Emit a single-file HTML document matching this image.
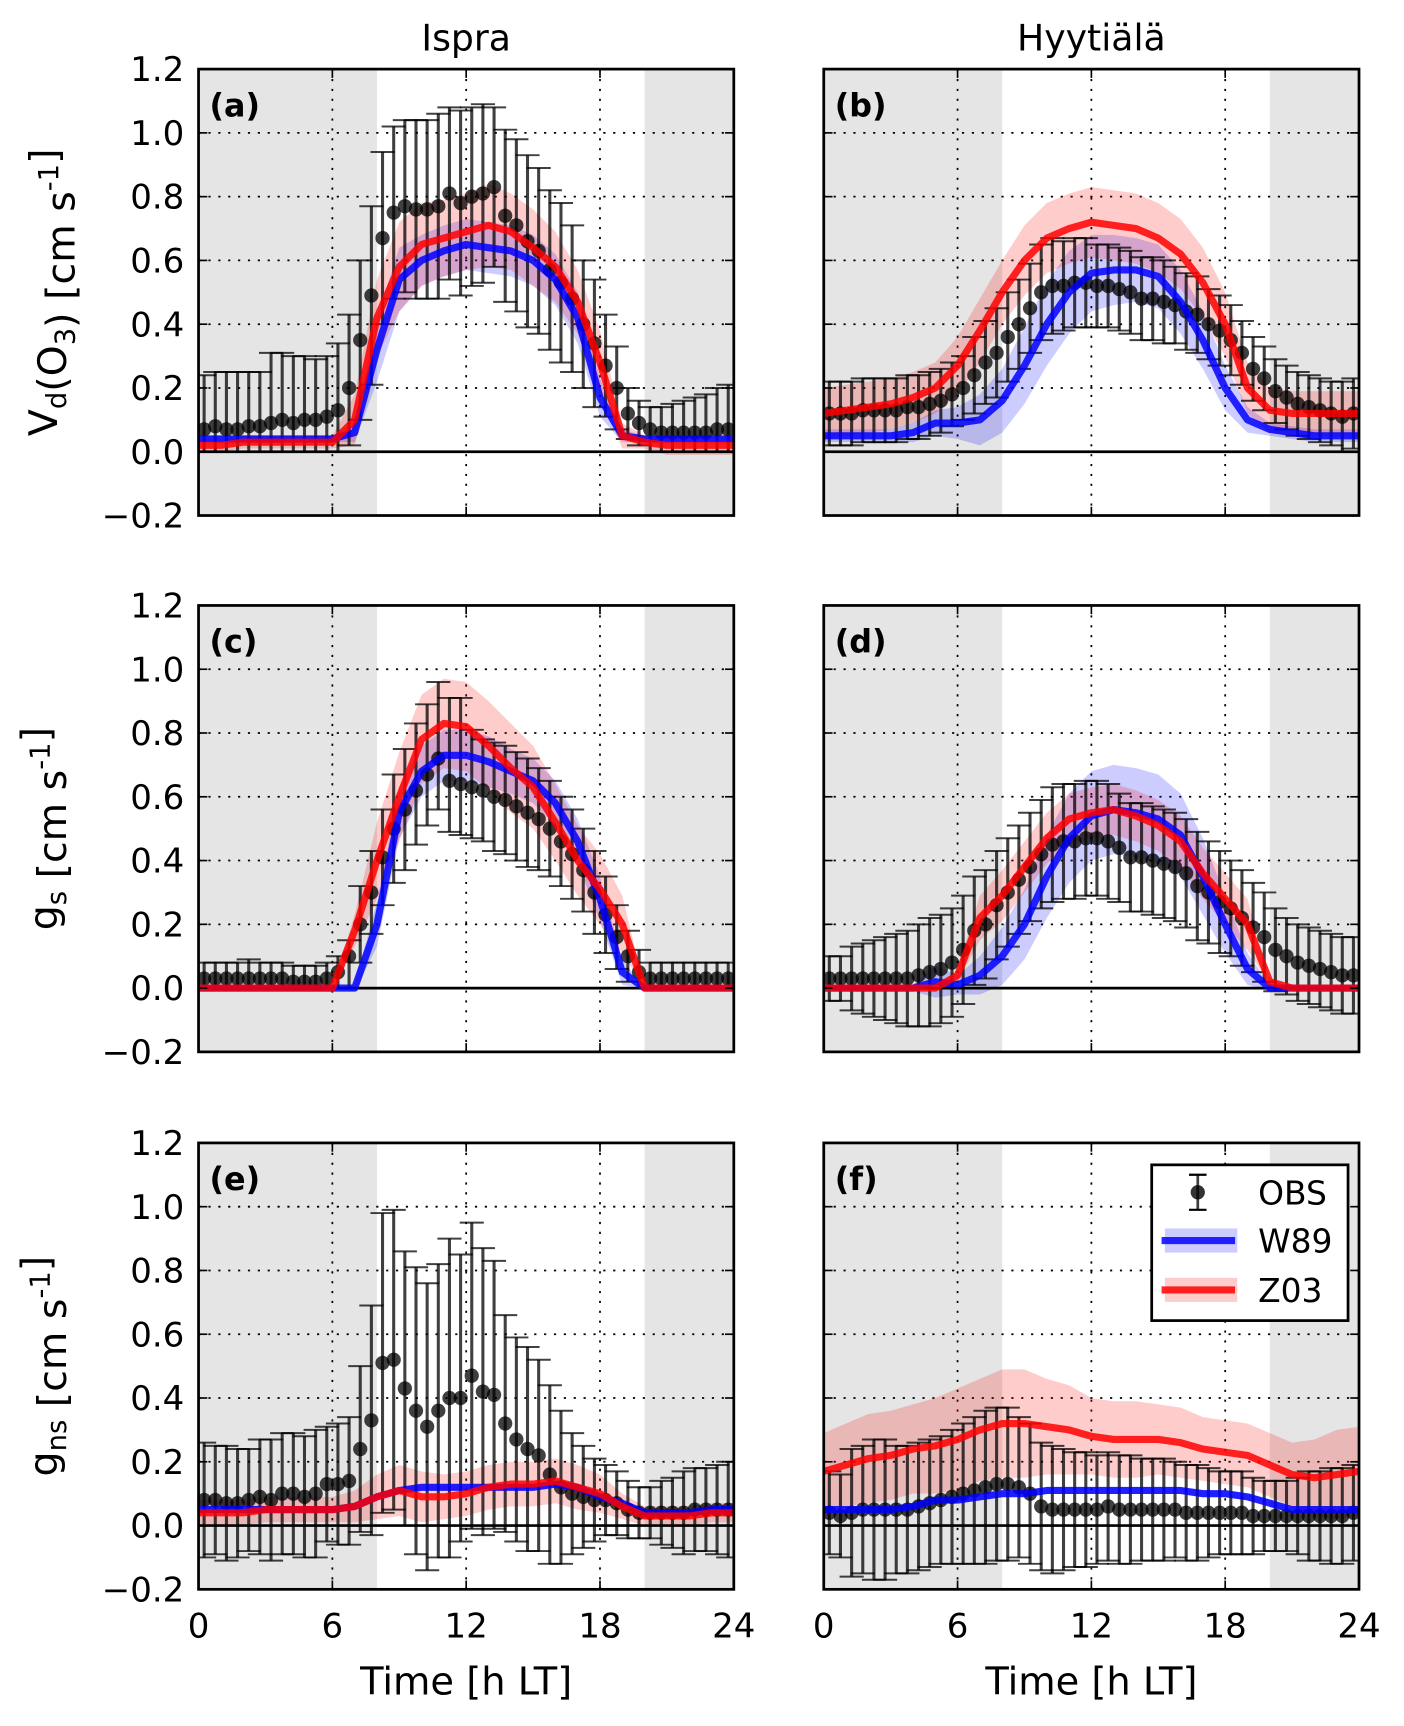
<!DOCTYPE html>
<html><head><meta charset="utf-8"><style>
html,body{margin:0;padding:0;background:#fff}
svg{display:block}
text{font-family:"DejaVu Sans","Liberation Sans",sans-serif;fill:#000}
</style></head><body>
<svg id="fig" width="1404" height="1726" viewBox="0 0 1280 1573.6" xmlns="http://www.w3.org/2000/svg">
<text x="425" y="46" font-size="33" text-anchor="middle">Ispra</text>
<text x="995" y="46" font-size="33" text-anchor="middle">Hyytiälä</text>
</svg>
<script>
const obsHours = Array.from({length:48},(_,i)=>0.25+0.5*i);
const modHours = Array.from({length:25},(_,i)=>i);
const yTicks = [-0.2,0.0,0.2,0.4,0.6,0.8,1.0,1.2];
const yTickLabels = ["\u22120.2","0.0","0.2","0.4","0.6","0.8","1.0","1.2"];
const xTicks = [0,6,12,18,24];
const xTickLabels = ["0","6","12","18","24"];

const obsA=[0.07,0.08,0.07,0.07,0.08,0.08,0.09,0.10,0.09,0.10,0.10,0.11,0.13,0.20,0.35,0.49,0.67,0.75,0.77,0.76,0.76,0.77,0.81,0.78,0.80,0.81,0.83,0.74,0.71,0.66,0.63,0.57,0.53,0.48,0.40,0.34,0.27,0.20,0.12,0.09,0.07,0.06,0.06,0.06,0.06,0.06,0.07,0.07];
const errA=[0.17,0.17,0.18,0.18,0.17,0.17,0.22,0.21,0.21,0.20,0.19,0.19,0.21,0.23,0.25,0.28,0.27,0.27,0.27,0.28,0.28,0.29,0.27,0.29,0.28,0.28,0.25,0.27,0.27,0.27,0.26,0.25,0.25,0.23,0.20,0.20,0.16,0.13,0.08,0.07,0.07,0.08,0.09,0.10,0.11,0.12,0.13,0.14];
const errLoA=[0.07,0.08,0.07,0.07,0.08,0.08,0.09,0.10,0.09,0.10,0.10,0.11,0.13,0.18,0.25,0.28,0.27,0.27,0.27,0.28,0.28,0.29,0.27,0.29,0.28,0.28,0.25,0.27,0.27,0.27,0.26,0.25,0.25,0.23,0.20,0.20,0.16,0.13,0.08,0.07,0.07,0.06,0.06,0.06,0.06,0.06,0.07,0.07];
const w89A=[0.04,0.04,0.04,0.04,0.04,0.04,0.04,0.06,0.32,0.54,0.60,0.63,0.65,0.64,0.63,0.60,0.54,0.42,0.17,0.05,0.04,0.04,0.04,0.04,0.04];
const w89BandA=[0.01,0.01,0.01,0.01,0.01,0.01,0.01,0.03,0.10,0.10,0.08,0.08,0.08,0.08,0.08,0.08,0.08,0.08,0.06,0.02,0.01,0.01,0.01,0.01,0.01];
const z03A=[0.02,0.02,0.03,0.03,0.03,0.03,0.03,0.10,0.42,0.58,0.65,0.67,0.69,0.71,0.69,0.64,0.58,0.47,0.28,0.05,0.03,0.02,0.02,0.02,0.02];
const z03BandA=[0.02,0.02,0.02,0.02,0.02,0.02,0.02,0.08,0.12,0.14,0.13,0.12,0.12,0.13,0.12,0.12,0.11,0.10,0.10,0.04,0.02,0.03,0.03,0.03,0.03];

const obsB=[0.12,0.12,0.12,0.13,0.13,0.13,0.13,0.14,0.14,0.15,0.16,0.18,0.20,0.24,0.28,0.31,0.36,0.40,0.45,0.50,0.52,0.52,0.53,0.53,0.52,0.52,0.51,0.50,0.48,0.48,0.47,0.46,0.44,0.43,0.40,0.38,0.35,0.31,0.26,0.23,0.19,0.17,0.15,0.14,0.13,0.12,0.11,0.12];
const errB=[0.10,0.10,0.10,0.10,0.10,0.10,0.10,0.10,0.10,0.10,0.10,0.10,0.10,0.12,0.13,0.14,0.14,0.14,0.14,0.15,0.15,0.14,0.14,0.14,0.13,0.13,0.13,0.13,0.13,0.13,0.13,0.12,0.12,0.12,0.11,0.11,0.11,0.10,0.10,0.10,0.10,0.10,0.10,0.10,0.10,0.10,0.11,0.11];
const w89B=[0.05,0.05,0.05,0.05,0.06,0.09,0.09,0.10,0.16,0.27,0.40,0.50,0.56,0.57,0.57,0.55,0.47,0.35,0.20,0.10,0.07,0.06,0.05,0.05,0.05];
const w89BandB=[0.02,0.02,0.02,0.02,0.03,0.04,0.05,0.08,0.10,0.12,0.13,0.13,0.12,0.11,0.10,0.10,0.10,0.09,0.07,0.04,0.02,0.02,0.02,0.02,0.02];
const z03B=[0.12,0.13,0.14,0.15,0.17,0.20,0.27,0.38,0.50,0.60,0.67,0.70,0.72,0.71,0.70,0.67,0.62,0.53,0.40,0.20,0.13,0.12,0.12,0.12,0.12];
const z03BandB=[0.08,0.08,0.08,0.08,0.08,0.08,0.09,0.10,0.10,0.11,0.11,0.11,0.11,0.11,0.11,0.11,0.11,0.11,0.10,0.08,0.07,0.07,0.07,0.07,0.07];

const obsC=[0.03,0.03,0.03,0.03,0.03,0.03,0.03,0.03,0.02,0.02,0.02,0.03,0.05,0.10,0.20,0.30,0.41,0.50,0.56,0.62,0.67,0.72,0.65,0.64,0.63,0.62,0.60,0.59,0.57,0.55,0.53,0.50,0.46,0.42,0.37,0.30,0.23,0.16,0.10,0.05,0.03,0.03,0.03,0.03,0.03,0.03,0.03,0.03];
const errC=[0.05,0.05,0.05,0.05,0.06,0.05,0.05,0.05,0.05,0.05,0.05,0.05,0.05,0.05,0.12,0.13,0.15,0.17,0.19,0.21,0.22,0.24,0.26,0.27,0.18,0.16,0.17,0.17,0.17,0.17,0.16,0.15,0.14,0.14,0.13,0.13,0.12,0.10,0.08,0.07,0.05,0.05,0.05,0.05,0.05,0.05,0.05,0.05];
const errLoC=[0.03,0.03,0.03,0.03,0.03,0.03,0.03,0.03,0.02,0.02,0.02,0.03,0.05,0.10,0.12,0.13,0.15,0.17,0.19,0.17,0.16,0.16,0.16,0.16,0.16,0.16,0.17,0.17,0.17,0.17,0.16,0.15,0.14,0.14,0.13,0.13,0.12,0.10,0.08,0.05,0.03,0.03,0.03,0.03,0.03,0.03,0.03,0.03];
const w89C=[0,0,0,0,0,0,0,0,0.20,0.55,0.68,0.73,0.73,0.71,0.68,0.65,0.58,0.46,0.28,0.05,0,0,0,0,0];
const w89BandC=[0,0,0,0,0,0,0,0.01,0.07,0.08,0.08,0.08,0.08,0.08,0.07,0.07,0.07,0.07,0.07,0.04,0,0,0,0,0];
const z03C=[0,0,0,0,0,0,0,0.18,0.40,0.60,0.78,0.83,0.82,0.76,0.69,0.63,0.52,0.40,0.31,0.20,0,0,0,0,0];
const z03BandC=[0,0,0,0,0,0,0,0.05,0.12,0.14,0.14,0.14,0.14,0.14,0.14,0.13,0.12,0.11,0.11,0.09,0,0,0,0,0];

const obsD=[0.03,0.03,0.03,0.03,0.03,0.03,0.03,0.03,0.04,0.05,0.06,0.08,0.12,0.18,0.20,0.26,0.30,0.34,0.38,0.42,0.45,0.46,0.46,0.47,0.47,0.46,0.44,0.41,0.41,0.40,0.39,0.38,0.36,0.32,0.30,0.27,0.25,0.22,0.19,0.16,0.12,0.10,0.08,0.07,0.06,0.05,0.04,0.04];
const errD=[0.07,0.07,0.10,0.11,0.12,0.13,0.14,0.15,0.16,0.17,0.17,0.17,0.17,0.17,0.17,0.17,0.17,0.17,0.17,0.17,0.18,0.18,0.18,0.18,0.18,0.18,0.17,0.17,0.17,0.17,0.17,0.17,0.17,0.17,0.16,0.16,0.15,0.15,0.14,0.14,0.13,0.12,0.12,0.12,0.12,0.12,0.12,0.12];
const w89D=[0,0,0,0,0,0.02,0.01,0.04,0.10,0.20,0.35,0.47,0.54,0.56,0.55,0.53,0.48,0.35,0.20,0.06,0,0,0,0,0];
const w89BandD=[0,0,0,0,0.01,0.05,0.03,0.06,0.09,0.11,0.13,0.14,0.14,0.14,0.14,0.14,0.13,0.12,0.09,0.05,0.01,0,0,0,0];
const z03D=[0,0,0,0,0,0,0.04,0.22,0.29,0.38,0.47,0.53,0.55,0.56,0.54,0.51,0.46,0.36,0.28,0.20,0.02,0,0,0,0];
const z03BandD=[0,0,0,0,0,0,0.02,0.07,0.08,0.08,0.08,0.08,0.08,0.08,0.08,0.08,0.08,0.08,0.08,0.08,0.01,0,0,0,0];

const obsE=[0.08,0.08,0.07,0.07,0.08,0.09,0.08,0.10,0.10,0.09,0.10,0.13,0.13,0.14,0.24,0.33,0.51,0.52,0.43,0.36,0.31,0.36,0.40,0.40,0.47,0.42,0.41,0.32,0.27,0.24,0.22,0.16,0.12,0.10,0.09,0.08,0.08,0.07,0.05,0.04,0.04,0.04,0.04,0.04,0.05,0.05,0.05,0.05];
const errE=[0.18,0.17,0.18,0.17,0.16,0.18,0.19,0.19,0.19,0.19,0.20,0.18,0.19,0.20,0.26,0.36,0.47,0.47,0.43,0.45,0.45,0.46,0.50,0.45,0.48,0.45,0.42,0.34,0.32,0.32,0.30,0.28,0.24,0.19,0.16,0.13,0.11,0.10,0.09,0.08,0.08,0.10,0.11,0.13,0.13,0.13,0.14,0.15];
const w89E=[0.05,0.05,0.05,0.05,0.05,0.05,0.05,0.06,0.09,0.11,0.12,0.12,0.12,0.12,0.12,0.12,0.13,0.12,0.09,0.07,0.04,0.04,0.04,0.05,0.05];
const w89BandE=[0.01,0.01,0.01,0.01,0.01,0.01,0.01,0.01,0.01,0.01,0.01,0.01,0.01,0.01,0.01,0.01,0.01,0.01,0.01,0.01,0.01,0.01,0.01,0.01,0.01];
const z03E=[0.04,0.04,0.04,0.05,0.05,0.05,0.05,0.06,0.09,0.11,0.09,0.09,0.10,0.12,0.13,0.13,0.14,0.12,0.10,0.06,0.03,0.03,0.03,0.04,0.04];
const z03BandE=[0.04,0.04,0.04,0.04,0.04,0.04,0.04,0.05,0.07,0.08,0.08,0.07,0.07,0.07,0.07,0.07,0.07,0.07,0.06,0.04,0.03,0.03,0.03,0.03,0.03];

const obsF=[0.04,0.03,0.04,0.05,0.05,0.05,0.05,0.05,0.06,0.07,0.08,0.09,0.10,0.11,0.12,0.13,0.13,0.12,0.10,0.06,0.05,0.05,0.05,0.05,0.05,0.06,0.05,0.05,0.05,0.05,0.05,0.05,0.04,0.04,0.04,0.04,0.04,0.04,0.03,0.03,0.03,0.03,0.03,0.03,0.03,0.03,0.03,0.04];
const errF=[0.13,0.13,0.20,0.20,0.22,0.22,0.20,0.20,0.20,0.20,0.20,0.21,0.22,0.23,0.24,0.24,0.24,0.22,0.22,0.20,0.20,0.19,0.18,0.18,0.17,0.17,0.17,0.17,0.16,0.16,0.16,0.15,0.15,0.15,0.14,0.13,0.13,0.13,0.12,0.11,0.11,0.11,0.12,0.14,0.14,0.15,0.15,0.15];
const w89F=[0.05,0.05,0.05,0.05,0.06,0.08,0.08,0.09,0.10,0.10,0.11,0.11,0.11,0.11,0.11,0.11,0.11,0.10,0.10,0.09,0.07,0.05,0.05,0.05,0.05];
const w89BandF=[0.01,0.01,0.01,0.01,0.01,0.01,0.01,0.01,0.01,0.01,0.01,0.01,0.01,0.01,0.01,0.01,0.01,0.01,0.01,0.01,0.01,0.01,0.01,0.01,0.01];
const z03F=[0.17,0.19,0.21,0.22,0.24,0.25,0.27,0.30,0.32,0.32,0.31,0.30,0.28,0.27,0.27,0.27,0.26,0.24,0.23,0.22,0.19,0.16,0.15,0.16,0.17];
const z03BandF=[0.12,0.13,0.14,0.14,0.14,0.15,0.16,0.16,0.17,0.17,0.15,0.14,0.12,0.12,0.12,0.11,0.11,0.10,0.10,0.10,0.10,0.10,0.12,0.14,0.14];

const NS="http://www.w3.org/2000/svg";
const svg=document.getElementById('fig');
function mk(tag,attrs,parent){const e=document.createElementNS(NS,tag);for(const k in attrs)e.setAttribute(k,attrs[k]);(parent||svg).appendChild(e);return e;}

const colX=[181,751], rowY=[63,552,1042], PW=488, PH=407;
const panels=[
 {id:'a',c:0,r:0,obs:obsA,err:errA,errLo:errLoA,w:w89A,wb:w89BandA,z:z03A,zb:z03BandA},
 {id:'b',c:1,r:0,obs:obsB,err:errB,errLo:errB,w:w89B,wb:w89BandB,z:z03B,zb:z03BandB},
 {id:'c',c:0,r:1,obs:obsC,err:errC,errLo:errLoC,w:w89C,wb:w89BandC,z:z03C,zb:z03BandC},
 {id:'d',c:1,r:1,obs:obsD,err:errD,errLo:errD,w:w89D,wb:w89BandD,z:z03D,zb:z03BandD},
 {id:'e',c:0,r:2,obs:obsE,err:errE,errLo:errE,w:w89E,wb:w89BandE,z:z03E,zb:z03BandE},
 {id:'f',c:1,r:2,obs:obsF,err:errF,errLo:errF,w:w89F,wb:w89BandF,z:z03F,zb:z03BandF}
];
const yLabels=[["V","d","(O","3",") [cm s","-1","]"],["g","s"," [cm s","-1","]"],["g","ns"," [cm s","-1","]"]];

panels.forEach(p=>{
 const x0=colX[p.c], y0=rowY[p.r];
 const X=h=>x0+h/24*PW;
 const Y=v=>y0+PH-(v+0.2)/1.4*PH;
 const g=mk('g',{});
 
 
 const clipId='clip'+p.id;
 const cp=mk('clipPath',{id:clipId},g);
 mk('rect',{x:x0,y:y0,width:PW,height:PH},cp);
 const inner=mk('g',{'clip-path':'url(#'+clipId+')'},g);
 const n1=mk('rect',{x:X(0),y:y0,width:X(8)-X(0),height:PH,fill:'#e5e5e5'},inner);
 
 
 const n2=mk('rect',{x:X(20),y:y0,width:X(24)-X(20),height:PH,fill:'#e5e5e5'},inner);
 
 
 yTicks.forEach(t=>{ if(t>-0.2&&t<1.2&&t!==0){const l=mk('line',{x1:x0,x2:x0+PW,y1:Y(t),y2:Y(t),stroke:'#000','stroke-width':1.6,'stroke-dasharray':'2,7'},inner);
  
  }});
 xTicks.forEach(t=>{ if(t>0&&t<24){const l=mk('line',{x1:X(t),x2:X(t),y1:y0,y2:y0+PH,stroke:'#000','stroke-width':1.6,'stroke-dasharray':'2,7'},inner);
  
  }});
 const band=(line,bw,col,name)=>{
  let d='';modHours.forEach((h,i)=>{d+=(i?'L':'M')+X(h)+','+Y(line[i]+bw[i]);});
  for(let i=modHours.length-1;i>=0;i--)d+='L'+X(modHours[i])+','+Y(line[i]-bw[i]);
  const e=mk('path',{d:d+'Z',fill:col,'fill-opacity':0.2,stroke:'none'},inner);
  
  
 };
 band(p.w,p.wb,'#0000ff','w89-band');
 band(p.z,p.zb,'#ff0000','z03-band');
 const zl=mk('line',{x1:x0,x2:x0+PW,y1:Y(0),y2:Y(0),stroke:'#000','stroke-width':2.5},inner);
 
 
 p.obs.forEach((v,i)=>{
  const x=X(obsHours[i]);
  const lo=Y(v-p.errLo[i]), hi=Y(v+p.err[i]);
  const eb=mk('g',{stroke:'#000','stroke-opacity':0.75,'stroke-width':2.8},inner);
  
  
  mk('line',{x1:x,x2:x,y1:lo,y2:hi},eb);
  mk('line',{x1:x-11,x2:x+11,y1:lo,y2:lo,'stroke-width':1.8},eb);
  mk('line',{x1:x-11,x2:x+11,y1:hi,y2:hi,'stroke-width':1.8},eb);
  const c=mk('circle',{cx:x,cy:Y(v),r:6.5,fill:'#000','fill-opacity':0.75},inner);
  
  
 });
 const line=(vals,col,name)=>{
  const pts=modHours.map((h,i)=>X(h)+','+Y(vals[i])).join(' ');
  const e=mk('polyline',{points:pts,fill:'none',stroke:col,'stroke-opacity':0.85,'stroke-width':6.5,'stroke-linejoin':'round'},inner);
  
  
 };
 line(p.w,'#0000ff','w89-line');
 line(p.z,'#ff0000','z03-line');
 const fr=mk('rect',{x:x0,y:y0,width:PW,height:PH,fill:'none',stroke:'#000','stroke-width':2.5},g);
 
 
 yTicks.forEach((t,i)=>{
  mk('line',{x1:x0,x2:x0+8,y1:Y(t),y2:Y(t),stroke:'#000','stroke-width':1.5},g);
  mk('line',{x1:x0+PW-8,x2:x0+PW,y1:Y(t),y2:Y(t),stroke:'#000','stroke-width':1.5},g);
  if(p.c===0){const tl=mk('text',{x:x0-13,y:Y(t)+11,'font-size':31,'text-anchor':'end'},g);tl.textContent=yTickLabels[i];
   
   }
 });
 xTicks.forEach((t,i)=>{
  mk('line',{x1:X(t),x2:X(t),y1:y0+PH-8,y2:y0+PH,stroke:'#000','stroke-width':1.5},g);
  mk('line',{x1:X(t),x2:X(t),y1:y0,y2:y0+8,stroke:'#000','stroke-width':1.5},g);
  if(p.r===2){const tl=mk('text',{x:X(t),y:y0+PH+44,'font-size':31,'text-anchor':'middle'},g);tl.textContent=xTickLabels[i];
   
   }
 });
 const pl=mk('text',{x:x0+10,y:y0+43,'font-size':29,'font-weight':'bold'},g);
 pl.textContent='('+p.id+')';
 
 
 if(p.r===2){const xl=mk('text',{x:x0+PW/2,y:y0+PH+96,'font-size':35,'text-anchor':'middle'},g);xl.textContent='Time [h LT]';
  
  }
 if(p.c===0){
  const cy=y0+PH/2;
  const yl=mk('text',{x:0,y:0,'font-size':36,'text-anchor':'middle',transform:'translate(52,'+cy+') rotate(-90)'},g);
  
  
  const parts=yLabels[p.r];
  parts.forEach((s,k)=>{
   const ts=mk('tspan',{},yl);
   let sub=false,sup=false;
   if(p.r===0){sub=(k===1||k===3);sup=(k===5);} else {sub=(k===1);sup=(k===3);}
   if(sub){ts.setAttribute('font-size',25);ts.setAttribute('dy',8);}
   else if(sup){ts.setAttribute('font-size',25);ts.setAttribute('dy',-15);}
   else{ts.setAttribute('dy',0);}
   ts.textContent=s;
   if(sub||sup){const r=mk('tspan',{'font-size':36,dy:sub?-8:15},yl);r.textContent='';}
  });
 }
});
const lg=mk('g',{});


mk('rect',{x:1050,y:1062,width:179,height:142,fill:'#fff',stroke:'#000','stroke-width':2.5},lg);
const eo=mk('g',{},lg);


mk('line',{x1:1092,x2:1092,y1:1071,y2:1103,stroke:'#000','stroke-opacity':0.75,'stroke-width':2.5},eo);
mk('line',{x1:1084,x2:1100,y1:1071,y2:1071,stroke:'#000','stroke-width':2},eo);
mk('line',{x1:1084,x2:1100,y1:1103,y2:1103,stroke:'#000','stroke-width':2},eo);
mk('circle',{cx:1092,cy:1087,r:6.5,fill:'#000','fill-opacity':0.8},eo);
const t1=mk('text',{x:1147,y:1098,'font-size':30},eo);t1.textContent='OBS';
const ew=mk('g',{},lg);


mk('rect',{x:1062,y:1120,width:66,height:22,fill:'#0000ff','fill-opacity':0.2},ew);
mk('line',{x1:1059,x2:1126,y1:1131,y2:1131,stroke:'#0000ff','stroke-opacity':0.85,'stroke-width':6.5},ew);
const t2=mk('text',{x:1147,y:1142,'font-size':30},ew);t2.textContent='W89';
const ez=mk('g',{},lg);


mk('rect',{x:1062,y:1165,width:66,height:22,fill:'#ff0000','fill-opacity':0.2},ez);
mk('line',{x1:1059,x2:1126,y1:1176,y2:1176,stroke:'#ff0000','stroke-opacity':0.85,'stroke-width':6.5},ez);
const t3=mk('text',{x:1147,y:1187,'font-size':30},ez);t3.textContent='Z03';
</script>
</body></html>
